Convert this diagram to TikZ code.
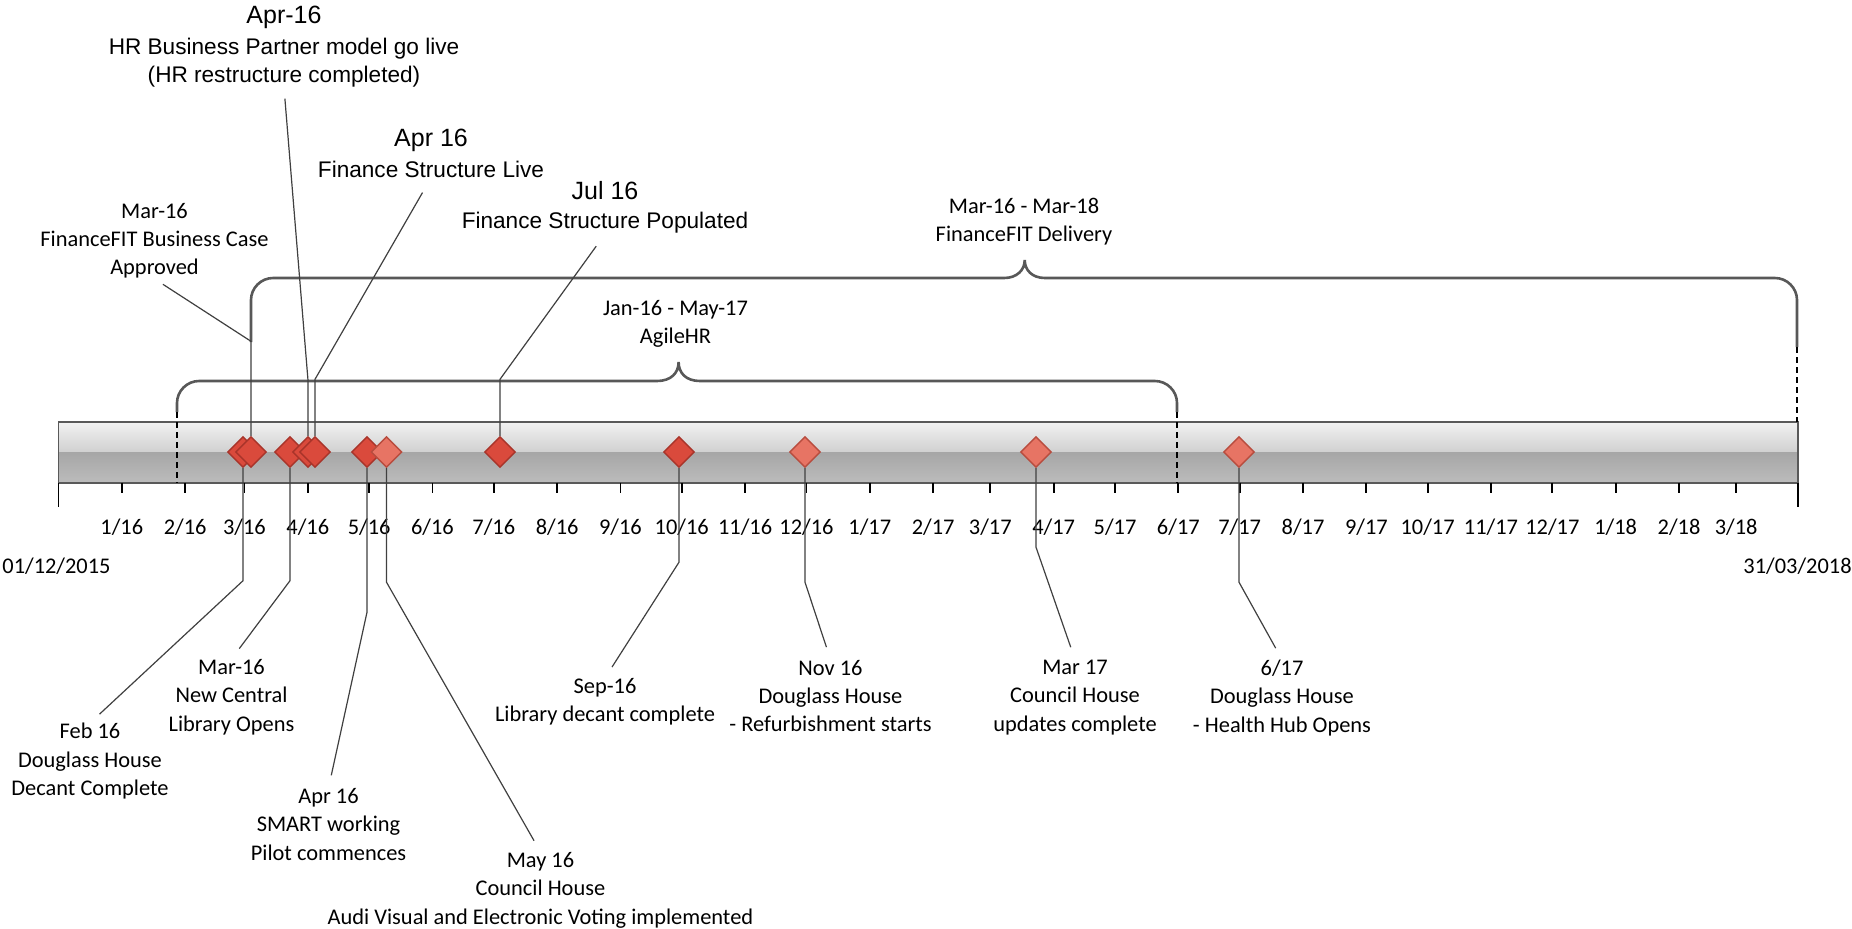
\documentclass[tikz,border=0pt]{standalone}
\usepackage{fontspec}
\setmainfont{Carlito}
\newfontfamily\arialfam{Liberation Sans}
\usetikzlibrary{shapes.geometric,positioning}

\definecolor{msDark}{RGB}{218,74,60}
\definecolor{msEdge}{RGB}{168,52,42}
\definecolor{msLight}{RGB}{231,116,100}
\definecolor{msEdgeLight}{RGB}{184,76,62}
\definecolor{barTop}{RGB}{242,242,242}
\definecolor{barMid}{RGB}{208,208,208}
\definecolor{barLow}{RGB}{166,166,166}
\definecolor{barBot}{RGB}{188,188,188}
\definecolor{lineGray}{RGB}{64,64,64}
\definecolor{braceGray}{RGB}{88,88,88}

\newcommand\lblfont{\fontsize{11.2}{14.2}\selectfont}
\newcommand\topfont{\arialfam\fontsize{11.3}{14.2}\selectfont}
\newcommand\headfont{\arialfam\fontsize{12.5}{15}\selectfont}

\tikzset{
  lbl/.style={font=\lblfont, align=center, inner sep=0pt, anchor=north},
  toplbl/.style={font=\topfont, align=center, inner sep=0pt},
  headlbl/.style={font=\headfont, inner sep=0pt, anchor=north},
  ms/.style={diamond, draw=msEdge, fill=msDark, line width=0.7pt, minimum size=15.5pt, inner sep=0pt},
  mslight/.style={ms, draw=msEdgeLight, fill=msLight},
  leader/.style={draw=lineGray, line width=0.6pt, shorten >=6.5pt},
  brace/.style={draw=braceGray, line width=1.3pt},
  rangeend/.style={draw=black, line width=0.6pt, dash pattern=on 3pt off 2pt},
  tickmark/.style={draw=black, line width=0.9pt}
}

\begin{document}
\begin{tikzpicture}[x=0.5pt,y=-0.5pt]
\fill[white] (0,0) rectangle (1852,928);
\useasboundingbox (0,0) rectangle (1852,928);

% time bar
\shade[top color=barTop, bottom color=barMid] (58.5,421.7) rectangle (1798,452);
\shade[top color=barLow, bottom color=barBot] (58.5,452) rectangle (1798,482.7);
\draw[draw=gray!70!black, line width=0.9pt] (58.5,421.7) rectangle (1798,482.7);
\draw[tickmark] (58.5,482.7) -- (58.5,507);
\draw[tickmark] (1798,482.7) -- (1798,507);
\foreach \d/\mm/\yy in {31/1/16,62/2/16,91/3/16,122/4/16,152/5/16,183/6/16,213/7/16,244/8/16,275/9/16,305/10/16,336/11/16,366/12/16,397/1/17,428/2/17,456/3/17,487/4/17,517/5/17,548/6/17,578/7/17,609/8/17,640/9/17,670/10/17,701/11/17,731/12/17,762/1/18,793/2/18,821/3/18}{
  \draw[tickmark] ({58.5+2.0435*\d},482.7) -- ++(0,10.5);
  \node[font=\lblfont, anchor=base, inner sep=0pt] (t\d) at ({58.5+2.0435*\d},534) {\mm/\yy};
}
\node[lbl, anchor=base west] (dStart) at (2,573) {01/12/2015};
\node[lbl, anchor=base east] (dEnd) at (1852,573) {31/03/2018};

% labels
\node[lbl] (lFeb) at (90,723) {Feb 16\\Douglass House\\Decant Complete};
\node[lbl] (lLib) at (231.5,659) {Mar-16\\New Central\\Library Opens};
\node[lbl] (lSmart) at (328.5,788) {Apr 16\\SMART working\\Pilot commences};
\node[lbl] (lMay) at (540.5,852) {May 16\\Council House\\Audi Visual and Electronic Voting implemented};
\node[lbl] (lSep) at (605,678) {Sep-16\\Library decant complete};
\node[lbl] (lNov) at (830.5,659.5) {Nov 16\\Douglass House\\- Refurbishment starts};
\node[lbl] (lMar17) at (1075,659.5) {Mar 17\\Council House\\updates complete};
\node[lbl] (lHub) at (1282,659.5) {6/17\\Douglass House\\- Health Hub Opens};
\node[lbl] (lMarFin) at (154.5,202.5) {Mar-16\\FinanceFIT Business Case\\Approved};
\node[lbl] (lAgile) at (675.5,299.5) {Jan-16 - May-17\\AgileHR};
\node[lbl] (lFit) at (1024,197.5) {Mar-16 - Mar-18\\FinanceFIT Delivery};
\node[headlbl] (hrDate) at (284,6) {Apr-16};
\node[toplbl, below=4pt of hrDate] (lHR) {HR Business Partner model go live\\(HR restructure completed)};
\node[headlbl] (fslDate) at (431,129) {Apr 16};
\node[toplbl, below=4pt of fslDate] (lFSL) {Finance Structure Live};
\node[headlbl] (julDate) at (605,181) {Jul 16};
\node[toplbl, below=6pt of julDate] (lJul) {Finance Structure Populated};

% ranges
\draw[brace] (177,412) -- (177,403) .. controls (177,391) and (187,381) .. (199,381) -- (657,381)
  .. controls (671,381) and (678.6,373) .. (678.6,362) .. controls (678.6,373) and (686,381) .. (700,381)
  -- (1155,381) .. controls (1167,381) and (1177,391) .. (1177,403) -- (1177,412);
\draw[rangeend] (177,412) -- (177,482.7);
\draw[rangeend] (1177,412) -- (1177,482.7);
\draw[brace] (251,342) -- (251,300) .. controls (251,288) and (261,278) .. (273,278) -- (1004,278)
  .. controls (1017,278) and (1024.7,270) .. (1024.7,260) .. controls (1024.7,270) and (1032,278) .. (1045,278)
  -- (1775,278) .. controls (1787,278) and (1797,288) .. (1797,300) -- (1797,347);
\draw[rangeend] (1797,347) -- (1797,421.7);

% milestones
\node[ms] (dFeb) at (243,452) {};
\node[ms] (dMarFin) at (251,452) {};
\node[ms] (dLib) at (290,452) {};
\node[ms] (dHR) at (308,452) {};
\node[ms] (dFSL) at (315,452) {};
\node[ms] (dSmart) at (367,452) {};
\node[mslight] (dMay) at (386.5,452) {};
\node[ms] (dJul) at (500,452) {};
\node[ms] (dSep) at (679,452) {};
\node[mslight] (dNov) at (805,452) {};
\node[mslight] (dMar17) at (1036,452) {};
\node[mslight] (dHub) at (1239,452) {};

% leaders
\draw[leader] (dFeb.south) -- ++(0,112.5) -- (lFeb.north);
\draw[leader] (dLib.south) -- ++(0,112.5) -- (lLib.north);
\draw[leader] (dSmart.south) -- ++(0,144) -- (lSmart.north);
\draw[leader] (dMay.south) -- ++(0,114) -- (lMay.north);
\draw[leader] (dSep.south) -- ++(0,94) -- (lSep.north);
\draw[leader] (dNov.south) -- ++(0,114) -- (lNov.north);
\draw[leader] (dMar17.south) -- ++(0,79) -- (lMar17.north);
\draw[leader] (dHub.south) -- ++(0,114) -- (lHub.north);
\draw[leader, shorten >=5.5pt] (dHR.north) -- ++(0,-55.5) -- (lHR.south);
\draw[leader, shorten >=8.5pt] (dFSL.north) -- ++(0,-56.5) -- (lFSL.south);
\draw[leader, shorten >=7.5pt] (dJul.north) -- ++(0,-56.5) -- (lJul.south);
\draw[leader, shorten >=5pt] (dMarFin.north) -- ++(0,-94.5) -- (lMarFin.south);
\end{tikzpicture}
\end{document}
